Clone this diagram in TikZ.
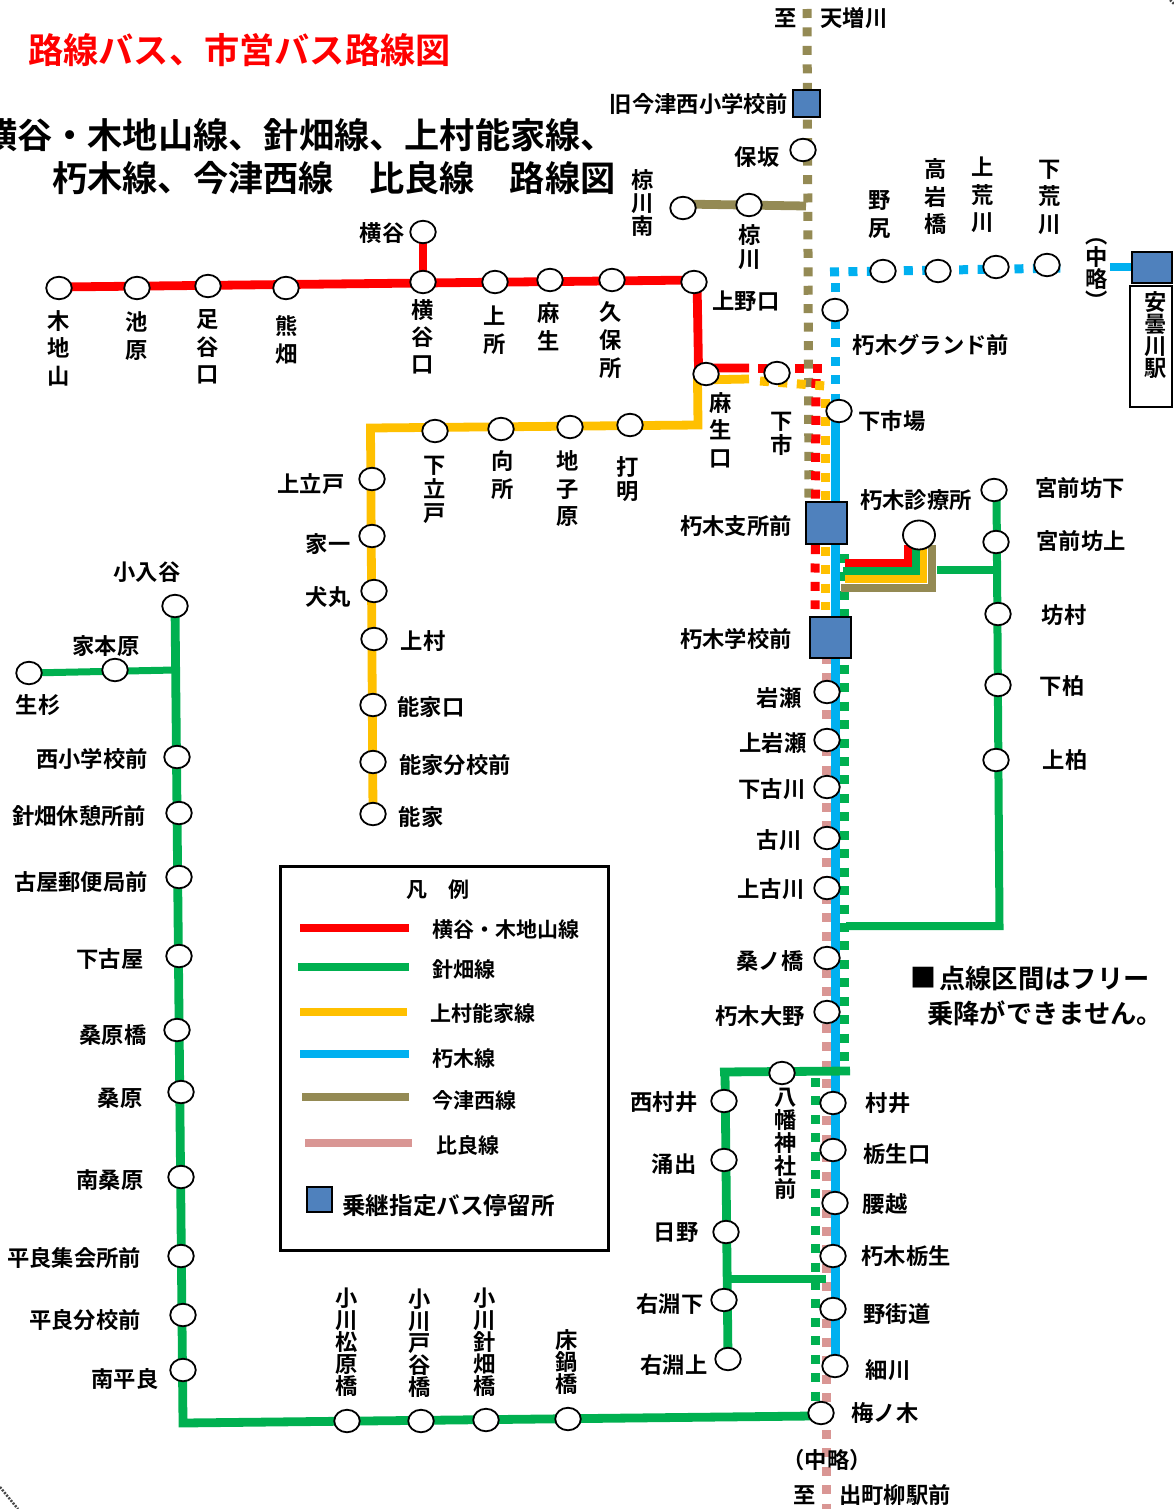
\documentclass[tikz,border=0pt]{standalone}
\usepackage{fontspec}
\setmainfont{Noto Sans CJK JP}[BoldFont=* Bold]
\usetikzlibrary{shapes.geometric,backgrounds}
\definecolor{cred}{HTML}{FF0000}
\definecolor{cgreen}{HTML}{00B050}
\definecolor{cyellow}{HTML}{FFC000}
\definecolor{ccyan}{HTML}{00B0F0}
\definecolor{ctan}{HTML}{948A54}
\definecolor{cpink}{HTML}{D99694}
\definecolor{cblue}{HTML}{4F81BD}
\tikzset{
 stopn/.style={ellipse,draw=black,line width=1.8pt,fill=white,minimum width=25.5pt,minimum height=22.5pt,inner sep=0pt},
 bstop/.style={rectangle,draw=black,line width=2pt,fill=cblue,minimum width=#1,minimum height=#1,inner sep=0pt},
 lab/.style={inner sep=0pt,font=\bfseries\fontsize{22.3}{22.3}\selectfont},
 legt/.style={inner sep=0pt,anchor=west,font=\bfseries\fontsize{21}{21}\selectfont},
 vlab/.style={inner sep=0pt,align=center,font=\bfseries\fontsize{22.3}{#1}\selectfont},
 head/.style={inner sep=0pt,anchor=west,font=\bfseries\fontsize{#1}{#1}\selectfont},
 solid line/.style={line width=8.8pt,line join=miter},
 dots/.style={line width=9pt,dash pattern=on 9pt off 9.45pt},
 legline/.style={line width=8.5pt},
 cornermark/.style={line width=2.5pt,gray!55!black,dash pattern=on 2pt off 1.4pt}
}
\begin{document}
\begin{tikzpicture}[x=1pt,y=-1pt]
\useasboundingbox (0,0) rectangle (1174,1509);
% corner marks
\coordinate (cmA) at (0,1487); \coordinate (cmB) at (18,1509);
\coordinate (cmC) at (1170,0); \coordinate (cmD) at (1174,4);
\draw[cornermark] (cmA)--(cmB);
\draw[cornermark] (cmC)--(cmD);
% coordinates
\coordinate (tanTop) at (807,9);
\coordinate (tanEnd) at (809,500);
\coordinate (tanJ) at (806,206);
\coordinate (tanW) at (680,204);
\coordinate (pinkTop) at (826,655);
\coordinate (pinkEnd) at (826,1509);
\coordinate (cyanCorner) at (830,272);
\coordinate (cyanHEnd) at (1066,268);
\coordinate (cyanVTop) at (835,283);
\coordinate (cyanVEnd) at (835,395);
\coordinate (cyanS) at (1110,267);
\coordinate (redW) at (59,287);
\coordinate (redNE) at (697,280);
\coordinate (redS) at (698.5,368);
\coordinate (redA) at (749,368);
\coordinate (redB) at (758,368);
\coordinate (redC) at (824,368);
\coordinate (redD) at (816,379);
\coordinate (redE) at (815,609);
\coordinate (yelA) at (749,379);
\coordinate (yelS) at (697.5,380);
\coordinate (yelB) at (760,381);
\coordinate (yelC) at (826,386);
\coordinate (yelD) at (825.5,399);
\coordinate (yelE) at (825.5,610);
\coordinate (grnA) at (844,554);
\coordinate (grnB) at (844,1072);
\coordinate (grnC) at (815,1078);
\coordinate (grnD) at (815,1404);
% legend
\node[draw=black,line width=3pt,minimum width=328pt,minimum height=384pt,inner sep=0pt] (legbox) at (444,1058) {};
\node[lab,font=\bfseries\fontsize{21}{21}\selectfont] (legT) at (438,890) {凡　例};
\coordinate (lr1) at (300,928); \coordinate (lr2) at (409,928);
\coordinate (lg1) at (298,967); \coordinate (lg2) at (409,967);
\coordinate (ly1) at (300,1012); \coordinate (ly2) at (407,1012);
\coordinate (lc1) at (300,1054); \coordinate (lc2) at (409,1054);
\coordinate (lt1) at (302,1097); \coordinate (lt2) at (409,1097);
\coordinate (lp1) at (305,1143); \coordinate (lp2) at (412,1143);
\draw[legline,cred] (lr1)--(lr2);
\draw[legline,cgreen] (lg1)--(lg2);
\draw[legline,cyellow] (ly1)--(ly2);
\draw[legline,ccyan] (lc1)--(lc2);
\draw[legline,ctan] (lt1)--(lt2);
\draw[legline,cpink] (lp1)--(lp2);
\node[legt] (legR) at (432,930) {横谷・木地山線};
\node[legt] (legG) at (432,969) {針畑線};
\node[legt] (legY) at (430.5,1013) {上村能家線};
\node[legt] (legC) at (432,1059) {朽木線};
\node[legt] (legN) at (432,1100) {今津西線};
\node[legt] (legP) at (436,1145) {比良線};
\node[bstop=25pt] (legB) at (319.5,1199) {};
\node[legt,font=\bfseries\fontsize{23.6}{23.6}\selectfont] (legBT) at (342,1206) {乗継指定バス停留所};
% headings
\node[head=35.2,text=cred] (title) at (28,50) {路線バス、市営バス路線図};
\node[head=35.2] (head1) at (-18,135) {横谷・木地山線、針畑線、上村能家線、};
\node[head=35.2] (head2) at (52,178) {朽木線、今津西線　比良線　路線図};
% stops : red line
\node[stopn] (kijiyama) at (59,288) {};
\node[stopn] (ikehara) at (137,288) {};
\node[stopn] (ashitaniguchi) at (208,286) {};
\node[stopn] (kumahata) at (286,288) {};
\node[stopn] (yokotaniguchi) at (423,282) {};
\node[stopn] (yokotani) at (423,232) {};
\node[stopn] (uwasho) at (495,282) {};
\node[stopn] (aso) at (550,280) {};
\node[stopn] (kubosho) at (612,280) {};
\node[stopn] (uenoguchi) at (694,282) {};
\node[stopn] (asoguchi) at (706,374) {};
\node[stopn] (shimoichi) at (777,373) {};
% yellow line
\node[stopn] (uchimyo) at (630,425) {};
\node[stopn] (jishihara) at (570,427) {};
\node[stopn] (mukosho) at (501,429) {};
\node[stopn] (shimotatedo) at (435,431) {};
\node[stopn] (kamitatedo) at (372,479) {};
\node[stopn] (ieichi) at (372,536) {};
\node[stopn] (inumaru) at (374,591) {};
\node[stopn] (kamimura) at (374,639) {};
\node[stopn] (nogeguchi) at (373,705) {};
\node[stopn] (nogebunko) at (373,762) {};
\node[stopn] (noge) at (373,814) {};
\coordinate (yb1) at (698,425);
\coordinate (yb2) at (370.5,428);
% tan line
\node[bstop=27pt] (kyuimazu) at (806,104) {};
\node[stopn] (hosaka) at (803,150) {};
\node[stopn] (mukuminami) at (683,208) {};
\node[stopn] (mukugawa) at (749,205) {};
% cyan line
\node[stopn] (nojiri) at (883,271) {};
\node[stopn] (takaiwa) at (938,271) {};
\node[stopn] (kamiara) at (996,267) {};
\node[stopn] (shimoara) at (1047,265) {};
\node[bstop=40pt,minimum height=31pt] (adogawa) at (1152,267) {};
\node[draw=black,line width=2pt,fill=white,minimum width=42pt,minimum height=121pt,inner sep=0pt] (adorect) at (1151,346.5) {};
\node[stopn] (ground) at (835,310) {};
\node[stopn] (shimoichiba) at (839,411) {};
\node[stopn,minimum width=32pt,minimum height=29pt] (shinryo) at (919,535) {};
\node[bstop=41.5pt] (shisho) at (826.5,523) {};
\node[bstop=41.5pt] (gakko) at (830.5,637.5) {};
\node[stopn] (iwase) at (827,692) {};
\node[stopn] (kamiiwase) at (827,740) {};
\node[stopn] (shimofuru) at (827,787) {};
\node[stopn] (furukawa) at (827,838) {};
\node[stopn] (kamifuru) at (827,888) {};
\node[stopn] (kuwanohashi) at (827,958) {};
\node[stopn] (ono) at (827,1012) {};
\node[stopn] (murai) at (833,1103) {};
\node[stopn] (tochuguchi) at (833,1150) {};
\node[stopn] (koshigoe) at (835,1203) {};
\node[stopn] (tochu) at (833,1256) {};
\node[stopn] (nokaido) at (833,1309) {};
\node[stopn] (hosokawa) at (835,1366) {};
\node[stopn] (umenoki) at (821,1413) {};
% green east branch
\node[stopn] (miyamaeS) at (994,490) {};
\node[stopn] (miyamaeK) at (996,542) {};
\node[stopn] (bomura) at (998,614) {};
\node[stopn] (shimogashiwa) at (998,685) {};
\node[stopn] (kamigashiwa) at (996,760) {};
\coordinate (ge1) at (846,926);
\coordinate (ge2) at (999.5,926);
\coordinate (ge3) at (996.5,490);
\coordinate (gb1) at (937,570);
\coordinate (gb2) at (997,570);
% green loop
\node[stopn] (hachiman) at (782,1073) {};
\node[stopn] (nishimurai) at (724,1101) {};
\node[stopn] (wakide) at (724,1160) {};
\node[stopn] (hino) at (726,1232) {};
\node[stopn] (ubuchiS) at (724,1300) {};
\node[stopn] (ubuchiK) at (728,1359) {};
\coordinate (gl1) at (720,1072);
\coordinate (gl2) at (850,1071);
\coordinate (gl3) at (725,1072);
\coordinate (gl4) at (728,1279);
\coordinate (gl5) at (826,1279);
% green west line
\node[stopn] (koniudani) at (175,606) {};
\node[stopn] (iemotohara) at (115,670) {};
\node[stopn] (ikisugi) at (29,673) {};
\node[stopn] (nishisho) at (177,757) {};
\node[stopn] (kyukei) at (179,813) {};
\node[stopn] (yubin) at (179,877) {};
\node[stopn] (shimofuruya) at (179,956) {};
\node[stopn] (kuwabarabashi) at (177,1030) {};
\node[stopn] (kuwabara) at (181,1092) {};
\node[stopn] (minamikuwa) at (181,1177) {};
\node[stopn] (shukaisho) at (181,1256) {};
\node[stopn] (hirabunko) at (183,1315) {};
\node[stopn] (minamihira) at (183,1370) {};
\node[stopn] (ogawamatsu) at (347,1421) {};
\node[stopn] (ogawato) at (421,1421) {};
\node[stopn] (ogawahari) at (486,1420) {};
\node[stopn] (tokonabe) at (568,1419) {};
\coordinate (gw1) at (175,670);
\coordinate (gw2) at (183,1423);
\coordinate (gw3) at (812,1416);
\coordinate (cbt1) at (841,588); \coordinate (cbt2) at (932,588); \coordinate (cbt3) at (932,545);
\coordinate (cby1) at (845,579); \coordinate (cby2) at (923,579); \coordinate (cby3) at (923,545);
\coordinate (cbg1) at (843,571); \coordinate (cbg2) at (916,571); \coordinate (cbg3) at (916,545);
\coordinate (cbr1) at (845,563); \coordinate (cbr2) at (908,563); \coordinate (cbr3) at (908,545);
% connectors
\begin{scope}[on background layer]
\draw[dots,cpink] (pinkTop)--(pinkEnd);
\draw[dots,ctan] (tanTop)--(tanEnd);
\draw[dots,cred] (redB)--(redC);
\draw[dots,cred] (redD)--(redE);
\draw[dots,cyellow] (yelB)--(yelC);
\draw[dots,cyellow] (yelD)--(yelE);
\draw[dots,cgreen] (grnA)--(grnB);
\draw[dots,cgreen] (grnC)--(grnD);
\draw[dots,ccyan] (cyanCorner)--(cyanHEnd);
\draw[dots,ccyan] (cyanVTop)--(cyanVEnd);
\draw[solid line,ccyan] (cyanS)--(adogawa);
\draw[solid line,ccyan,line width=9pt] (cyanVEnd)--(hosokawa.center);
\draw[solid line,ctan] (tanW)--(tanJ);
\draw[solid line,cyellow] (yelA)--(yelS)--(yb1)--(yb2)--(noge.center);
\draw[solid line,cred] (redW)--(redNE)--(redS)--(redA);
\draw[solid line,cred] (yokotani.center)--(yokotaniguchi.center);
% clinic branches
\draw[solid line,ctan] (cbt1)--(cbt2)--(cbt3);
\draw[solid line,cyellow] (cby1)--(cby2)--(cby3);
\draw[solid line,cgreen] (cbg1)--(cbg2)--(cbg3);
\draw[solid line,cred] (cbr1)--(cbr2)--(cbr3);
\draw[solid line,cgreen,line width=7.5pt] (gb1)--(gb2);
\draw[solid line,cgreen,line width=8pt] (ge1)--(ge2)--(ge3);
\draw[solid line,cgreen] (gl2)--(gl1);
\draw[solid line,cgreen] (gl3)--(ubuchiK.center);
\draw[solid line,cgreen,line width=7.5pt] (gl4)--(gl5);
\draw[solid line,cgreen] (koniudani.center)--(gw2)--(gw3);
\draw[solid line,cgreen,line width=7pt] (ikisugi.center)--(gw1);
\end{scope}
% labels
\node[lab] (l1) at (786,18) {至};
\node[lab] (l2) at (854,18) {天増川};
\node[lab] (l3) at (699,104) {旧今津西小学校前};
\node[lab] (l4) at (757,157) {保坂};
\node[vlab=23] (l5) at (643,203) {椋\\川\\南};
\node[lab] (l6) at (382,233) {横谷};
\node[vlab=24] (l7) at (750,247) {椋\\川};
\node[vlab=28] (l8) at (880,214) {野\\尻};
\node[vlab=27.5] (l9) at (936,197) {高\\岩\\橋};
\node[vlab=27.5] (l10) at (983,195) {上\\荒\\川};
\node[vlab=27.5] (l11) at (1050,197) {下\\荒\\川};
\node[vlab=22] (l12) at (1097,274) {︵\\中\\略\\︶};
\node[vlab=22] (l13) at (1156,335) {安\\曇\\川\\駅};
\node[lab] (l14) at (746,301) {上野口};
\node[lab] (l15) at (931,345) {朽木グランド前};
\node[vlab=27.5] (l16) at (721,430) {麻\\生\\口};
\node[vlab=24] (l17) at (782,434) {下\\市};
\node[lab] (l18) at (892,421) {下市場};
\node[lab] (l19) at (916,500) {朽木診療所};
\node[lab] (l20) at (736,526) {朽木支所前};
\node[lab] (l21) at (736,639) {朽木学校前};
\node[lab] (l22) at (1080,488) {宮前坊下};
\node[lab] (l23) at (1081,541) {宮前坊上};
\node[lab] (l24) at (1064,615) {坊村};
\node[lab] (l25) at (1062,686) {下柏};
\node[lab] (l26) at (1065,760) {上柏};
\node[lab] (l27) at (779,698) {岩瀬};
\node[lab] (l28) at (773,743) {上岩瀬};
\node[lab] (l29) at (772,789) {下古川};
\node[lab] (l30) at (779,840) {古川};
\node[lab] (l31) at (771,889) {上古川};
\node[lab] (l32) at (770,961) {桑ノ橋};
\node[lab] (l33) at (760,1016) {朽木大野};
\node[head=26] (l34) at (910,978) {■};
\node[head=26.3] (l35) at (939,978) {点線区間はフリー};
\node[head=26.3] (l36) at (927,1013) {乗降ができません。};
\node[lab] (l37) at (888,1103) {村井};
\node[lab] (l38) at (897,1154) {栃生口};
\node[lab] (l39) at (885,1204) {腰越};
\node[lab] (l40) at (906,1256) {朽木栃生};
\node[lab] (l41) at (897,1314) {野街道};
\node[lab] (l42) at (888,1370) {細川};
\node[lab] (l43) at (885,1413) {梅ノ木};
\node[lab] (l44) at (827,1460) {（中略）};
\node[lab] (l45) at (805,1495) {至};
\node[lab] (l46) at (895,1495) {出町柳駅前};
\node[vlab=23] (l47) at (786,1144) {八\\幡\\神\\社\\前};
\node[lab] (l48) at (664,1102) {西村井};
\node[lab] (l49) at (674,1164) {涌出};
\node[lab] (l50) at (676,1232) {日野};
\node[lab] (l51) at (670,1304) {右淵下};
\node[lab] (l52) at (674,1365) {右淵上};
\node[lab] (l53) at (147,572) {小入谷};
\node[lab] (l54) at (106,646) {家本原};
\node[lab] (l55) at (38,705) {生杉};
\node[lab] (l56) at (92,759) {西小学校前};
\node[lab] (l57) at (79,816) {針畑休憩所前};
\node[lab] (l58) at (81,882) {古屋郵便局前};
\node[lab] (l59) at (110,959) {下古屋};
\node[lab] (l60) at (113,1035) {桑原橋};
\node[lab] (l61) at (120,1098) {桑原};
\node[lab] (l62) at (110,1180) {南桑原};
\node[lab] (l63) at (74,1258) {平良集会所前};
\node[lab] (l64) at (85,1320) {平良分校前};
\node[lab] (l65) at (125,1379) {南平良};
\node[vlab=22] (l66) at (347,1342) {小\\川\\松\\原\\橋};
\node[vlab=22] (l67) at (420,1343) {小\\川\\戸\\谷\\橋};
\node[vlab=22] (l68) at (485,1342) {小\\川\\針\\畑\\橋};
\node[vlab=22] (l69) at (567,1362) {床\\鍋\\橋};
\node[vlab=27.5] (l70) at (59,348) {木\\地\\山};
\node[vlab=28] (l71) at (137,336) {池\\原};
\node[vlab=27.5] (l72) at (208,347) {足\\谷\\口};
\node[vlab=28] (l73) at (287,340) {熊\\畑};
\node[vlab=27] (l74) at (423,337) {横\\谷\\口};
\node[vlab=28] (l75) at (495,330) {上\\所};
\node[vlab=28] (l76) at (549,327) {麻\\生};
\node[vlab=28] (l77) at (611,340) {久\\保\\所};
\node[vlab=24] (l78) at (435,490) {下\\立\\戸};
\node[vlab=28] (l79) at (503,475) {向\\所};
\node[vlab=27.5] (l80) at (568,489) {地\\子\\原};
\node[vlab=24] (l81) at (628,479) {打\\明};
\node[lab] (l82) at (311,484) {上立戸};
\node[lab] (l83) at (328,544) {家一};
\node[lab] (l84) at (328,597) {犬丸};
\node[lab] (l85) at (423,641) {上村};
\node[lab] (l86) at (431,707) {能家口};
\node[lab] (l87) at (455,765) {能家分校前};
\node[lab] (l88) at (421,817) {能家};
\end{tikzpicture}
\end{document}
